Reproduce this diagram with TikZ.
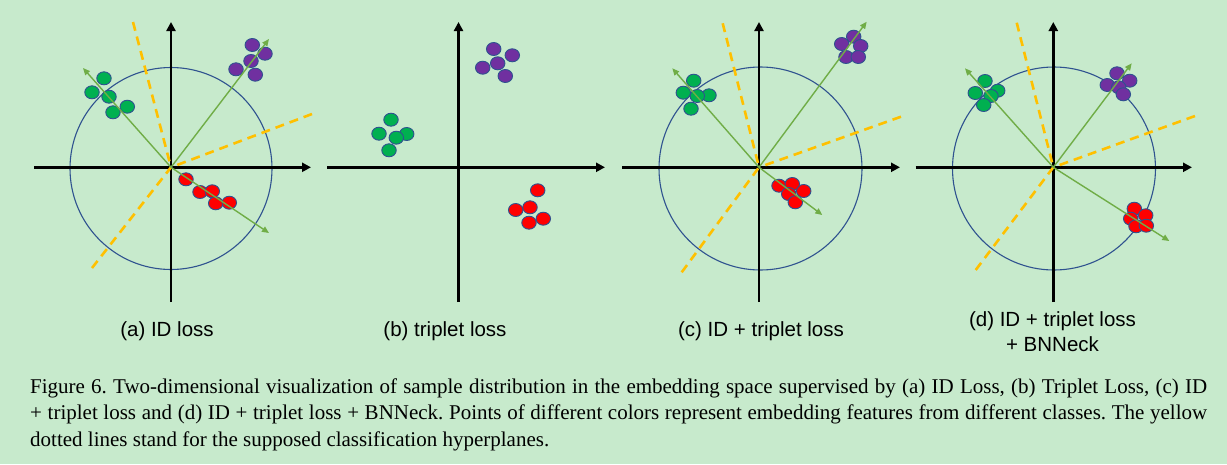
\documentclass[tikz,border=0pt]{standalone}
\usepackage{fontspec}
\setmainfont{Liberation Serif}
\newfontfamily\labelfont{Liberation Sans}
\usetikzlibrary{arrows.meta,shapes.geometric}
\definecolor{bgc}{RGB}{199,234,204}
\definecolor{gdot}{RGB}{0,176,80}
\definecolor{pdot}{RGB}{112,48,160}
\definecolor{rdot}{RGB}{255,0,0}
\definecolor{outl}{RGB}{47,82,143}
\definecolor{vecg}{RGB}{112,173,71}
\definecolor{yel}{RGB}{255,192,0}
\newcommand\putblob[3]{\node[blob=#1] (#2) at #3 {};}
\frenchspacing
\begin{document}
\begin{tikzpicture}[x=1pt,y=-1pt,
  axisline/.style={line width=2.6pt,-{Triangle[length=9pt,width=9pt]}},
  unitcircle/.style={draw=outl,line width=1.1pt},
  hyper/.style={draw=yel,line width=2.6pt,dash pattern=on 9pt off 6pt},
  vecline/.style={draw=vecg,line width=1.4pt,-{Triangle[length=7pt,width=6pt]}},
  blob/.style={ellipse,draw=outl,line width=0.9pt,fill=#1,minimum width=14.5pt,minimum height=13pt,inner sep=0pt},
  sublabel/.style={font=\labelfont\fontsize{20.5pt}{25pt}\selectfont,inner sep=0pt,anchor=base},
  capline/.style={font=\fontsize{21pt}{26pt}\selectfont\frenchspacing,inner sep=0pt,anchor=base west}]
\useasboundingbox (0,0) rectangle (1227,464);
\fill[bgc] (0,0) rectangle (1227,464);

% ---------------- panel (a)
\coordinate (oa) at (171,167.3);
\coordinate (axl) at (34,167.3); \coordinate (axr) at (311,167.3);
\coordinate (ayb) at (171,302); \coordinate (ayt) at (171,22);
\draw[unitcircle] (171,168.5) circle[radius=101pt];
\draw[axisline] (axl) -- (axr);
\draw[axisline] (ayb) -- (ayt);
\coordinate (ya1) at (133,22); \coordinate (ya2) at (312,114); \coordinate (ya3) at (92,268);
\draw[hyper] (ya1) -- (oa); \draw[hyper] (ya2) -- (oa); \draw[hyper] (ya3) -- (oa);
\putblob{gdot}{ag1}{(104,78.3)}
\putblob{gdot}{ag2}{(92,92.3)}
\putblob{gdot}{ag3}{(109,96.7)}
\putblob{gdot}{ag4}{(127.3,106.7)}
\putblob{gdot}{ag5}{(113,112.3)}
\putblob{pdot}{ap1}{(252.3,45)}
\putblob{pdot}{ap2}{(265,53.7)}
\putblob{pdot}{ap3}{(251,61)}
\putblob{pdot}{ap4}{(236,69.3)}
\putblob{pdot}{ap5}{(255.3,74.7)}
\putblob{rdot}{ar1}{(186,179.3)}
\putblob{rdot}{ar2}{(200,192)}
\putblob{rdot}{ar3}{(212.3,191.3)}
\putblob{rdot}{ar4}{(215.7,203.3)}
\putblob{rdot}{ar5}{(229.3,202.7)}
\coordinate (va1) at (83,68); \coordinate (va2) at (269,39); \coordinate (va3) at (269,233);
\draw[vecline] (oa) -- (va1); \draw[vecline] (oa) -- (va2); \draw[vecline] (oa) -- (va3);
\node[sublabel] (la) at (167,336.5) {(a) ID loss};

% ---------------- panel (b)
\coordinate (ob) at (458.5,167.3);
\coordinate (bxl) at (327,167.3); \coordinate (bxr) at (605,167.3);
\coordinate (byb) at (458.5,302); \coordinate (byt) at (458.5,22);
\draw[axisline] (bxl) -- (bxr);
\draw[axisline] (byb) -- (byt);
\putblob{gdot}{bg1}{(391,119.7)}
\putblob{gdot}{bg2}{(379,133.7)}
\putblob{gdot}{bg3}{(406.7,134)}
\putblob{gdot}{bg4}{(396.3,137.7)}
\putblob{gdot}{bg5}{(389,150.3)}
\putblob{pdot}{bp1}{(493.7,49)}
\putblob{pdot}{bp2}{(512.3,55.3)}
\putblob{pdot}{bp3}{(497.7,63.3)}
\putblob{pdot}{bp4}{(482.7,67.7)}
\putblob{pdot}{bp5}{(505.3,76)}
\putblob{rdot}{br1}{(537.7,190.3)}
\putblob{rdot}{br2}{(515.7,210)}
\putblob{rdot}{br3}{(530,207.3)}
\putblob{rdot}{br4}{(543.3,218.7)}
\putblob{rdot}{br5}{(529,222.7)}
\node[sublabel] (lb) at (445,336.5) {(b) triplet loss};

% ---------------- panel (c)
\coordinate (oc) at (759,167.3);
\coordinate (cxl) at (622,167.3); \coordinate (cxr) at (900,167.3);
\coordinate (cyb) at (759,302); \coordinate (cyt) at (759,22);
\draw[unitcircle] (760.5,168.5) circle[radius=101.5pt];
\draw[axisline] (cxl) -- (cxr);
\draw[axisline] (cyb) -- (cyt);
\coordinate (yc1) at (722.7,23.3); \coordinate (yc2) at (901,116.7); \coordinate (yc3) at (681.7,272.3);
\draw[hyper] (yc1) -- (oc); \draw[hyper] (yc2) -- (oc); \draw[hyper] (yc3) -- (oc);
\putblob{gdot}{cg1}{(693.7,80.7)}
\putblob{gdot}{cg2}{(683.3,92.7)}
\putblob{gdot}{cg3}{(709,95.3)}
\putblob{gdot}{cg4}{(697.3,96)}
\putblob{gdot}{cg5}{(691,108.7)}
\putblob{pdot}{cp1}{(853.7,36.7)}
\putblob{pdot}{cp2}{(841.7,44)}
\putblob{pdot}{cp3}{(860.7,46)}
\putblob{pdot}{cp4}{(846,57)}
\putblob{pdot}{cp5}{(858.3,57)}
\putblob{rdot}{cr1}{(779,185.7)}
\putblob{rdot}{cr2}{(792.3,184)}
\putblob{rdot}{cr3}{(803.7,191)}
\putblob{rdot}{cr4}{(788.7,194)}
\putblob{rdot}{cr5}{(795.3,202.3)}
\coordinate (vc1) at (672.3,68.3); \coordinate (vc2) at (866.7,21.7); \coordinate (vc3) at (822.3,215);
\draw[vecline] (oc) -- (vc1); \draw[vecline] (oc) -- (vc2); \draw[vecline] (oc) -- (vc3);
\node[sublabel] (lc) at (761,336.5) {(c) ID + triplet loss};

% ---------------- panel (d)
\coordinate (od) at (1053.3,167.3);
\coordinate (dxl) at (915.7,167.3); \coordinate (dxr) at (1192,167.3);
\coordinate (dyb) at (1053.3,302); \coordinate (dyt) at (1053.3,22);
\draw[unitcircle] (1054,168.5) circle[radius=101.5pt];
\draw[axisline] (dxl) -- (dxr);
\draw[axisline] (dyb) -- (dyt);
\coordinate (yd1) at (1016.7,22.7); \coordinate (yd2) at (1195,116); \coordinate (yd3) at (975.7,270);
\draw[hyper] (yd1) -- (od); \draw[hyper] (yd2) -- (od); \draw[hyper] (yd3) -- (od);
\putblob{gdot}{dg1}{(985,81)}
\putblob{gdot}{dg2}{(997.7,90.7)}
\putblob{gdot}{dg3}{(975.3,93)}
\putblob{gdot}{dg4}{(991,96)}
\putblob{gdot}{dg5}{(983.7,105)}
\putblob{pdot}{dp1}{(1117,73.3)}
\putblob{pdot}{dp2}{(1129.7,80.7)}
\putblob{pdot}{dp3}{(1107.3,85)}
\putblob{pdot}{dp4}{(1118.7,87.3)}
\putblob{pdot}{dp5}{(1123.3,94.3)}
\putblob{rdot}{dr1}{(1134.3,208.7)}
\putblob{rdot}{dr2}{(1145.7,215.3)}
\putblob{rdot}{dr3}{(1130.7,218.7)}
\putblob{rdot}{dr4}{(1136,226.3)}
\putblob{rdot}{dr5}{(1146.3,225.7)}
\coordinate (vd1) at (965,68.3); \coordinate (vd2) at (1131.7,63.3); \coordinate (vd3) at (1169.3,241);
\draw[vecline] (od) -- (vd1); \draw[vecline] (od) -- (vd2); \draw[vecline] (od) -- (vd3);
\node[sublabel] (ld1) at (1052.5,326.5) {(d) ID + triplet loss};
\node[sublabel] (ld2) at (1052.5,351.5) {+ BNNeck};

% ---------------- caption
\node[capline] (cap1) at (30,393) {\makebox[1177pt][s]{Figure 6. Two-dimensional visualization of sample distribution in the embedding space supervised by (a) ID Loss, (b) Triplet Loss, (c) ID}};
\node[capline] (cap2) at (30,419.5) {\makebox[1177pt][s]{+ triplet loss and (d) ID + triplet loss + BNNeck. Points of different colors represent embedding features from different classes. The yellow}};
\node[capline] (cap3) at (30,446) {dotted lines stand for the supposed classification hyperplanes.};
\end{tikzpicture}
\end{document}
